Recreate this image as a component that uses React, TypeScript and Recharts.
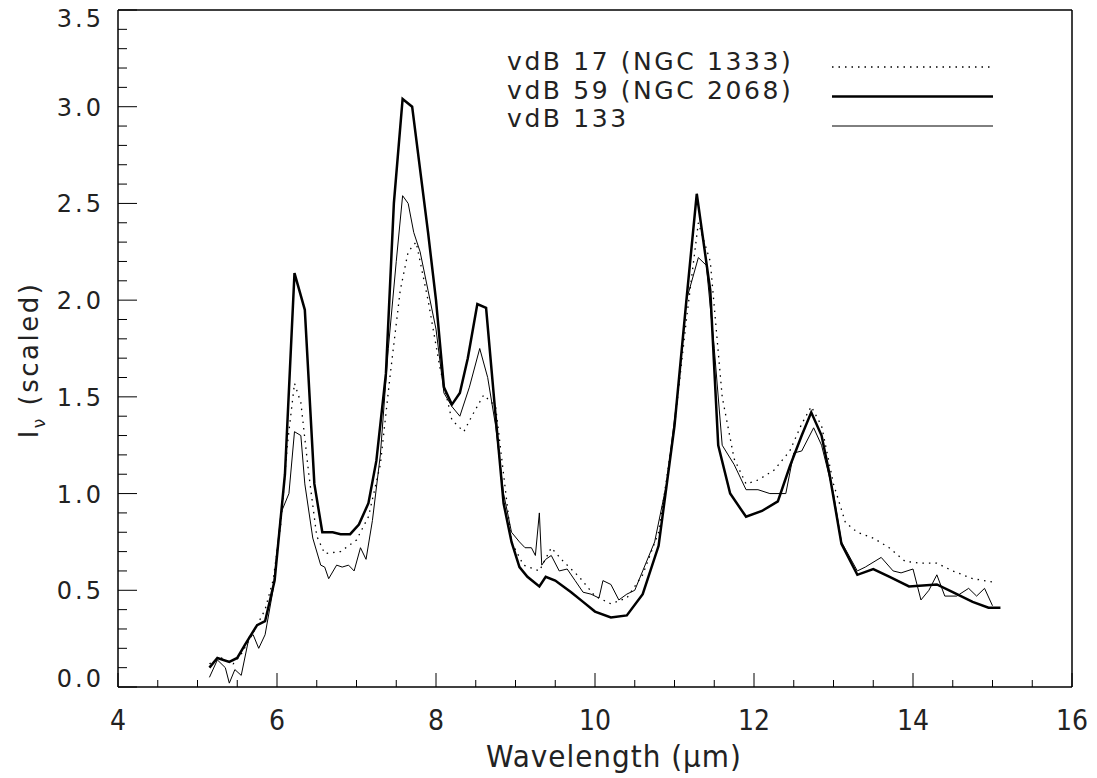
import { LineChart, Line, XAxis, YAxis } from 'recharts';

// vdB 17 (NGC 1333) - dotted
const vdb17Wave = [5.15, 5.3, 5.45, 5.55, 5.7, 5.85, 5.95, 6.05, 6.13, 6.22, 6.3, 6.4, 6.5, 6.6, 6.8, 7.0, 7.15, 7.3, 7.42, 7.55, 7.65, 7.75, 7.9, 8.05, 8.2, 8.35, 8.45, 8.6, 8.75, 8.85, 8.95, 9.1, 9.3, 9.45, 9.6, 9.8, 10.0, 10.2, 10.4, 10.6, 10.8, 11.0, 11.15, 11.3, 11.45, 11.6, 11.75, 11.9, 12.05, 12.25, 12.45, 12.6, 12.72, 12.85, 13.0, 13.15, 13.3, 13.5, 13.7, 13.9, 14.1, 14.3, 14.5, 14.75, 15.05];
const vdb17Flux = [0.12, 0.15, 0.12, 0.17, 0.28, 0.4, 0.55, 0.85, 1.25, 1.57, 1.47, 1.1, 0.78, 0.69, 0.7, 0.76, 0.88, 1.15, 1.6, 2.05, 2.25, 2.3, 2.0, 1.65, 1.38, 1.32, 1.4, 1.51, 1.45, 1.1, 0.75, 0.63, 0.6, 0.72, 0.65, 0.57, 0.47, 0.43, 0.46, 0.58, 0.8, 1.35, 1.9, 2.4, 2.2, 1.5, 1.18, 1.05, 1.07, 1.12, 1.22, 1.36, 1.45, 1.35, 1.05, 0.85, 0.8, 0.77, 0.72, 0.65, 0.64, 0.64, 0.6, 0.56, 0.54];

// vdB 59 (NGC 2068) - thick
const vdb59Wave = [5.15, 5.25, 5.4, 5.5, 5.6, 5.75, 5.85, 5.97, 6.1, 6.22, 6.35, 6.47, 6.57, 6.7, 6.8, 6.92, 7.03, 7.15, 7.25, 7.37, 7.47, 7.58, 7.7, 7.9, 8.0, 8.1, 8.2, 8.3, 8.4, 8.52, 8.63, 8.75, 8.85, 8.95, 9.05, 9.15, 9.3, 9.38, 9.5, 9.7, 9.85, 10.0, 10.2, 10.4, 10.6, 10.8, 11.0, 11.15, 11.28, 11.45, 11.55, 11.7, 11.9, 12.1, 12.3, 12.45, 12.6, 12.72, 12.85, 12.95, 13.1, 13.3, 13.5, 13.7, 13.95, 14.3, 14.5, 14.75, 14.95, 15.1];
const vdb59Flux = [0.1, 0.15, 0.13, 0.15, 0.22, 0.32, 0.34, 0.55, 1.1, 2.14, 1.95, 1.05, 0.8, 0.8, 0.79, 0.79, 0.84, 0.95, 1.17, 1.62, 2.5, 3.04, 3.0, 2.35, 2.0, 1.55, 1.46, 1.52, 1.7, 1.98, 1.96, 1.4, 0.95, 0.75, 0.62, 0.57, 0.52, 0.57, 0.55, 0.49, 0.44, 0.39, 0.36, 0.37, 0.48, 0.73, 1.35, 2.0, 2.55, 2.05, 1.25, 1.0, 0.88, 0.91, 0.96, 1.14, 1.3, 1.42, 1.3, 1.1, 0.74, 0.58, 0.61, 0.57, 0.52, 0.53, 0.49, 0.44, 0.41, 0.41];

// vdB 133 - thin
const vdb133Wave = [5.15, 5.25, 5.35, 5.4, 5.47, 5.55, 5.65, 5.7, 5.77, 5.85, 5.95, 6.05, 6.15, 6.22, 6.3, 6.35, 6.45, 6.55, 6.6, 6.65, 6.75, 6.82, 6.9, 6.97, 7.05, 7.12, 7.2, 7.3, 7.4, 7.5, 7.58, 7.65, 7.72, 7.8, 7.9, 8.0, 8.1, 8.2, 8.3, 8.42, 8.55, 8.65, 8.75, 8.85, 8.95, 9.05, 9.12, 9.2, 9.25, 9.3, 9.33, 9.38, 9.45, 9.55, 9.65, 9.75, 9.85, 9.95, 10.05, 10.1, 10.2, 10.3, 10.4, 10.5, 10.6, 10.75, 10.9, 11.05, 11.15, 11.3, 11.4, 11.5, 11.6, 11.75, 11.9, 12.05, 12.2, 12.4, 12.5, 12.6, 12.75, 12.85, 13.0, 13.1, 13.3, 13.4, 13.6, 13.75, 13.85, 14.0, 14.1, 14.2, 14.3, 14.4, 14.55, 14.7, 14.8, 14.9, 15.0];
const vdb133Flux = [0.05, 0.14, 0.1, 0.02, 0.09, 0.06, 0.26, 0.27, 0.2, 0.27, 0.5, 0.9, 1.0, 1.32, 1.3, 1.05, 0.77, 0.63, 0.62, 0.56, 0.63, 0.62, 0.63, 0.6, 0.72, 0.66, 0.86, 1.2, 1.75, 2.2, 2.54, 2.5, 2.35, 2.25, 2.05, 1.85, 1.52, 1.45, 1.4, 1.55, 1.75, 1.6, 1.35, 1.0, 0.8, 0.75, 0.72, 0.72, 0.68, 0.9, 0.63, 0.66, 0.68, 0.6, 0.61, 0.55, 0.49, 0.48, 0.46, 0.55, 0.53, 0.45, 0.48, 0.5, 0.6, 0.75, 1.05, 1.55, 2.0, 2.22, 2.18, 1.75, 1.25, 1.15, 1.02, 1.02, 1.0, 1.0, 1.21, 1.22, 1.34, 1.25, 1.0, 0.75, 0.6, 0.62, 0.67, 0.6, 0.59, 0.61, 0.45, 0.5, 0.58, 0.47, 0.47, 0.51, 0.47, 0.51, 0.42];

const legendNames = ['vdB 17 (NGC 1333)', 'vdB 59 (NGC 2068)', 'vdB 133'];

// minor ticks every 0.5 on x, every 0.1 on y
const xTicks = Array.from({ length: 25 }, (_, i) => 4 + i * 0.5);
const yTicks = Array.from({ length: 36 }, (_, i) => i / 10);

const zip = (xs: number[], ys: number[]) => xs.map((x, i) => ({ x, y: ys[i] }));
const d17 = zip(vdb17Wave, vdb17Flux);
const d59 = zip(vdb59Wave, vdb59Flux);
const d133 = zip(vdb133Wave, vdb133Flux);

const isMajor = (v: number, step: number) => Math.abs(v / step - Math.round(v / step)) < 1e-6;
const yFont = "'DejaVu Sans', sans-serif";
const xFont = "'Liberation Sans Narrow', 'DejaVu Sans Condensed', 'Liberation Sans', sans-serif";

function BottomTick({ x, y, payload }: any) {
  const major = isMajor(payload.value, 2);
  return (
    <g>
      <line x1={x} x2={x} y1={y} y2={y - (major ? 14 : 7)} stroke="#000" strokeWidth={1} />
      {major && (
        <text x={x} y={y + 43} textAnchor="middle" fontFamily={xFont} fontSize={28} fill="#222">
          {payload.value}
        </text>
      )}
    </g>
  );
}

function TopTick({ x, y, payload }: any) {
  const major = isMajor(payload.value, 2);
  return <line x1={x} x2={x} y1={y} y2={y + (major ? 14 : 7)} stroke="#000" strokeWidth={1} />;
}

function LeftTick({ x, y, payload }: any) {
  const v = payload.value;
  const major = isMajor(v, 0.5);
  // end labels sit a little inside the frame, as in the original
  const shift = v >= 3.5 ? 8 : v <= 0 ? -9 : 0;
  return (
    <g>
      <line x1={x} x2={x + (major ? 19 : 9)} y1={y} y2={y} stroke="#000" strokeWidth={1} />
      {major && (
        <text x={x - 14} y={y + 9 + shift} textAnchor="end" fontFamily={yFont} fontSize={24} letterSpacing={3} fill="#222">
          {v.toFixed(1)}
        </text>
      )}
    </g>
  );
}

function RightTick({ x, y, payload }: any) {
  const major = isMajor(payload.value, 0.5);
  return <line x1={x} x2={x - (major ? 19 : 9)} y1={y} y2={y} stroke="#000" strokeWidth={1} />;
}

function LegendBox() {
  const styles = [
    { dash: '1.5 5', w: 1.3 },
    { dash: undefined, w: 2.5 },
    { dash: undefined, w: 1 },
  ];
  return (
    <svg width={520} height={100} style={{ position: 'absolute', left: 507, top: 44 }}>
      {legendNames.map((name, i) => (
        <g key={name}>
          <text x={0} y={26 + i * 28.5} fontFamily={yFont} fontSize={25} letterSpacing={2.6} fill="#222">
            {name}
          </text>
          <line x1={325} x2={486} y1={23 + i * 29.5} y2={23 + i * 29.5} stroke="#000" strokeWidth={styles[i].w} strokeDasharray={styles[i].dash} />
        </g>
      ))}
    </svg>
  );
}

export default function App() {
  return (
    <div style={{ position: 'absolute', left: 0, top: 0, width: 1097, height: 778, background: '#fff' }}>
      <LineChart width={1097} height={778} margin={{ top: 5, right: 15, bottom: 31, left: 58 }}>
        <XAxis
          xAxisId={0}
          type="number"
          dataKey="x"
          domain={[4, 16]}
          ticks={xTicks}
          interval={0}
          height={60}
          tickSize={0}
          tickMargin={0}
          tick={<BottomTick />}
          axisLine={{ stroke: '#000', strokeWidth: 1.5 }}
          tickLine={false}
          allowDataOverflow
        />
        <XAxis
          xAxisId="top"
          orientation="top"
          type="number"
          domain={[4, 16]}
          ticks={xTicks}
          interval={0}
          height={5}
          tickSize={0}
          tickMargin={0}
          tick={<TopTick />}
          axisLine={{ stroke: '#000', strokeWidth: 1.5 }}
          tickLine={false}
        />
        <YAxis
          yAxisId={0}
          type="number"
          domain={[0, 3.5]}
          ticks={yTicks}
          interval={0}
          width={60}
          tickSize={0}
          tickMargin={0}
          tick={<LeftTick />}
          axisLine={{ stroke: '#000', strokeWidth: 1.5 }}
          tickLine={false}
          allowDataOverflow
        />
        <YAxis
          yAxisId="right"
          orientation="right"
          type="number"
          domain={[0, 3.5]}
          ticks={yTicks}
          interval={0}
          width={10}
          tickSize={0}
          tickMargin={0}
          tick={<RightTick />}
          axisLine={{ stroke: '#000', strokeWidth: 1.5 }}
          tickLine={false}
        />
        <text x={614} y={767} textAnchor="middle" fontFamily={xFont} fontSize={31} letterSpacing={1} fill="#222">
          Wavelength (μm)
        </text>
        <text x={38} y={360} transform="rotate(-90 38 360)" textAnchor="middle" fontFamily={yFont} fontSize={26} letterSpacing={2.5} fill="#222">
          I<tspan fontSize={17} dy={7}>ν</tspan>
          <tspan dy={-7}> (scaled)</tspan>
        </text>
        <Line data={d17} dataKey="y" type="linear" stroke="#000" strokeWidth={1.3} strokeDasharray="1.5 5" dot={false} isAnimationActive={false} />
        <Line data={d59} dataKey="y" type="linear" stroke="#000" strokeWidth={2.5} dot={false} isAnimationActive={false} />
        <Line data={d133} dataKey="y" type="linear" stroke="#000" strokeWidth={1} dot={false} isAnimationActive={false} />
      </LineChart>
      <LegendBox />
    </div>
  );
}
